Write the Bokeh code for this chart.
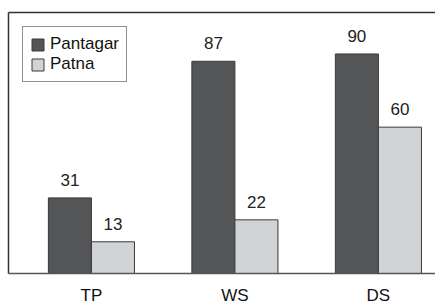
from bokeh.plotting import figure
from bokeh.models import ColumnDataSource, Range1d, FixedTicker, LinearAxis, Legend, LegendItem, LabelSet
from bokeh.core.properties import value
from bokeh.transform import dodge
from bokeh.embed import file_html
from bokeh.resources import INLINE

categories = ["TP", "WS", "DS"]
pantagar = [31, 87, 90]
patna = [13, 22, 60]

FONT = "Liberation Sans"
DARK = "#545557"
LIGHT = "#d2d3d5"

idx = list(range(len(categories)))
src = ColumnDataSource(dict(
    x=idx,
    pantagar=pantagar,
    patna=patna,
    pantagar_lbl=[str(v) for v in pantagar],
    patna_lbl=[str(v) for v in patna],
))

p = figure(frame_width=427, frame_height=261, output_backend="svg", toolbar_location=None,
           x_range=Range1d(-0.578, 2.398), y_range=Range1d(0, 107),
           min_border_left=8, min_border_right=0, min_border_top=12, min_border_bottom=0)
p.grid.visible = False
p.outline_line_color = None
p.background_fill_color = "white"

r1 = p.vbar(x=dodge("x", -0.15, range=p.x_range), top="pantagar", width=0.3, bottom=0,
            source=src, fill_color=DARK, line_color="#3a3a3c", line_width=1)
r2 = p.vbar(x=dodge("x", 0.15, range=p.x_range), top="patna", width=0.3, bottom=0,
            source=src, fill_color=LIGHT, line_color="#3a3a3c", line_width=1)

for col, off in (("pantagar", -0.15), ("patna", 0.15)):
    p.add_layout(LabelSet(x=dodge("x", off, range=p.x_range), y=col, text=col + "_lbl",
                          source=src, text_align="center", text_baseline="bottom",
                          y_offset=12, text_font=value(FONT), text_font_size="17px",
                          text_color="#222222"))

# x axis below
xa = p.xaxis[0]
xa.ticker = FixedTicker(ticks=idx)
xa.major_label_overrides = {i: c for i, c in enumerate(categories)}
xa.major_tick_line_color = None
xa.minor_tick_line_color = None
xa.major_tick_out = 0
xa.major_tick_in = 0
xa.minor_tick_out = 0
xa.major_label_standoff = 12
xa.major_label_text_font = FONT
xa.major_label_text_font_size = "17px"
xa.major_label_text_color = "#111111"
xa.axis_line_color = "#555555"
xa.axis_line_width = 1.5

# left axis line only
ya = p.yaxis[0]
ya.ticker = FixedTicker(ticks=[])
ya.major_tick_out = 0
ya.major_tick_in = 0
ya.minor_tick_out = 0
ya.major_label_standoff = 0
ya.axis_line_color = "#333333"
ya.axis_line_width = 1.5

# top line
top = LinearAxis(ticker=FixedTicker(ticks=[]), major_tick_out=0, major_tick_in=0,
                 minor_tick_out=0, major_label_standoff=0,
                 axis_line_color="#333333", axis_line_width=1.5)
p.add_layout(top, "above")

legend = Legend(items=[LegendItem(label="Pantagar", renderers=[r1]),
                       LegendItem(label="Patna", renderers=[r2])],
                location="top_left", margin=14, padding=7, spacing=0,
                glyph_width=15, glyph_height=15, label_standoff=5,
                label_text_font=FONT, label_text_font_size="17px",
                label_text_color="#111111", label_height=20,
                border_line_color="#222222", border_line_width=1.5,
                background_fill_alpha=1.0)
p.add_layout(legend)

open("out.html", "w").write(file_html(p, INLINE))
